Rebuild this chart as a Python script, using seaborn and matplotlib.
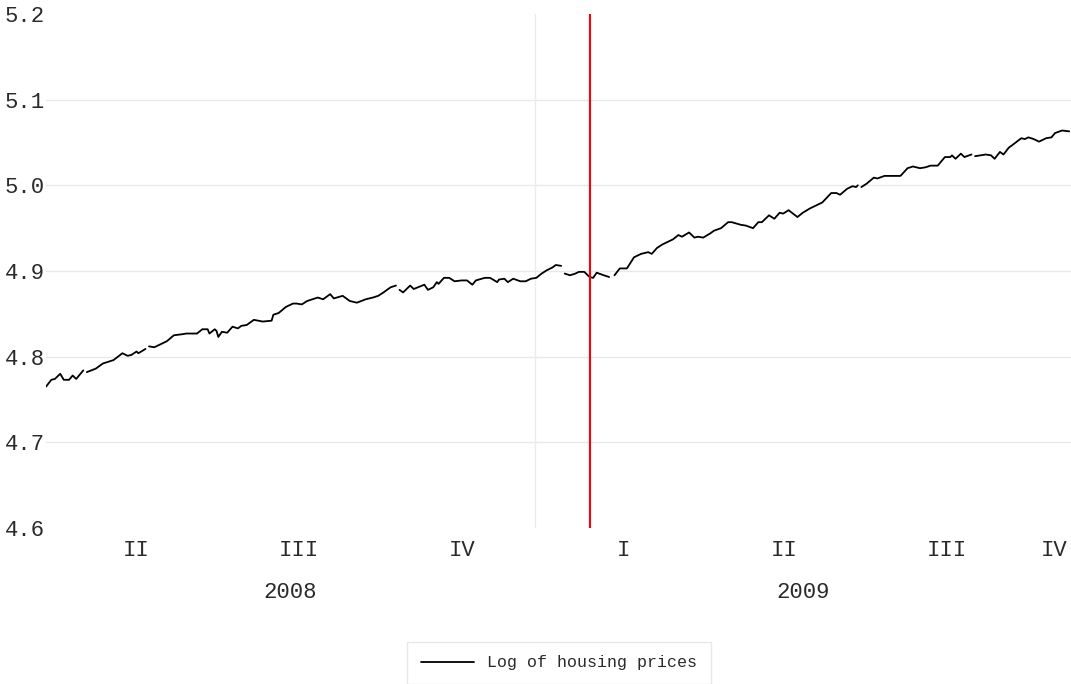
import numpy as np
import pandas as pd
import matplotlib
matplotlib.use("Agg")
import matplotlib.pyplot as plt
import matplotlib.dates as mdates
import matplotlib.transforms as mtransforms
from matplotlib.lines import Line2D
import seaborn as sns

nan = np.nan

# ---------- Data ----------
dates = [
    "2008-04-01", "2008-04-04", "2008-04-06", "2008-04-09", "2008-04-11", "2008-04-14",
    "2008-04-16", "2008-04-18", "2008-04-22", "2008-04-23", "2008-04-24", "2008-04-29",
    "2008-05-03", "2008-05-09", "2008-05-14", "2008-05-17", "2008-05-19", "2008-05-22",
    "2008-05-23", "2008-05-27", "2008-05-28", "2008-05-29", "2008-06-01", "2008-06-05",
    "2008-06-08", "2008-06-12", "2008-06-16", "2008-06-19", "2008-06-25", "2008-06-28",
    "2008-07-01", "2008-07-02", "2008-07-05", "2008-07-06", "2008-07-07", "2008-07-09",
    "2008-07-12", "2008-07-15", "2008-07-18", "2008-07-20", "2008-07-23", "2008-07-27",
    "2008-08-01", "2008-08-06", "2008-08-07", "2008-08-10", "2008-08-14", "2008-08-18",
    "2008-08-20", "2008-08-23", "2008-08-26", "2008-08-29", "2008-09-01", "2008-09-04",
    "2008-09-08", "2008-09-10", "2008-09-15", "2008-09-19", "2008-09-23", "2008-09-28",
    "2008-10-02", "2008-10-05", "2008-10-08", "2008-10-12", "2008-10-15", "2008-10-16",
    "2008-10-17", "2008-10-19", "2008-10-23", "2008-10-25", "2008-10-31", "2008-11-02",
    "2008-11-05", "2008-11-07", "2008-11-08", "2008-11-11", "2008-11-14", "2008-11-17",
    "2008-11-21", "2008-11-24", "2008-11-27", "2008-11-29", "2008-12-04", "2008-12-07",
    "2008-12-11", "2008-12-12", "2008-12-15", "2008-12-17", "2008-12-20", "2008-12-24",
    "2008-12-27", "2008-12-30", "2009-01-02", "2009-01-05", "2009-01-08", "2009-01-11",
    "2009-01-13", "2009-01-16", "2009-01-17", "2009-01-18", "2009-01-21", "2009-01-24",
    "2009-01-26", "2009-01-29", "2009-02-01", "2009-02-03", "2009-02-05", "2009-02-09",
    "2009-02-12", "2009-02-13", "2009-02-15", "2009-02-18", "2009-02-22", "2009-02-26",
    "2009-03-02", "2009-03-06", "2009-03-08", "2009-03-11", "2009-03-14", "2009-03-20",
    "2009-03-23", "2009-03-25", "2009-03-29", "2009-04-01", "2009-04-03", "2009-04-06",
    "2009-04-10", "2009-04-12", "2009-04-16", "2009-04-20", "2009-04-22", "2009-04-27",
    "2009-04-30", "2009-05-04", "2009-05-07", "2009-05-09", "2009-05-13", "2009-05-16",
    "2009-05-19", "2009-05-21", "2009-05-24", "2009-05-29", "2009-06-01", "2009-06-05",
    "2009-06-08", "2009-06-12", "2009-06-17", "2009-06-20", "2009-06-22", "2009-06-26",
    "2009-06-29", "2009-07-01", "2009-07-02", "2009-07-03", "2009-07-04", "2009-07-07",
    "2009-07-11", "2009-07-13", "2009-07-17", "2009-07-26", "2009-07-30", "2009-08-02",
    "2009-08-06", "2009-08-09", "2009-08-12", "2009-08-16", "2009-08-20", "2009-08-23",
    "2009-08-24", "2009-08-26", "2009-08-29", "2009-08-31", "2009-09-04", "2009-09-05",
    "2009-09-06", "2009-09-12", "2009-09-15", "2009-09-17", "2009-09-20", "2009-09-22",
    "2009-09-25", "2009-09-27", "2009-10-02", "2009-10-04", "2009-10-06", "2009-10-09",
    "2009-10-12", "2009-10-16", "2009-10-19", "2009-10-21", "2009-10-25", "2009-10-29",
]
log_prices = [
    4.765, 4.773, 4.774, 4.780, 4.773, 4.773,
    4.778, 4.774, 4.784, nan, 4.782, 4.786,
    4.792, 4.796, 4.804, 4.801, 4.802, 4.806,
    4.804, 4.809, nan, 4.812, 4.811, 4.815,
    4.818, 4.825, 4.826, 4.827, 4.827, 4.832,
    4.832, 4.827, 4.832, 4.830, 4.823, 4.829,
    4.828, 4.835, 4.833, 4.836, 4.837, 4.843,
    4.841, 4.842, 4.849, 4.851, 4.858, 4.862,
    4.862, 4.861, 4.865, 4.867, 4.869, 4.867,
    4.873, 4.868, 4.871, 4.865, 4.863, 4.867,
    4.869, 4.871, 4.875, 4.881, 4.883, nan,
    4.878, 4.875, 4.883, 4.879, 4.884, 4.878,
    4.881, 4.887, 4.885, 4.892, 4.892, 4.888,
    4.889, 4.889, 4.884, 4.889, 4.892, 4.892,
    4.887, 4.890, 4.891, 4.887, 4.891, 4.888,
    4.888, 4.891, 4.892, 4.897, 4.901, 4.904,
    4.907, 4.906, nan, 4.897, 4.895, 4.897,
    4.899, 4.899, 4.893, 4.892, 4.898, 4.895,
    4.893, nan, 4.895, 4.903, 4.903, 4.916,
    4.920, 4.922, 4.920, 4.927, 4.931, 4.937,
    4.942, 4.940, 4.945, 4.939, 4.940, 4.939,
    4.944, 4.947, 4.950, 4.957, 4.957, 4.954,
    4.953, 4.950, 4.957, 4.957, 4.965, 4.961,
    4.968, 4.967, 4.971, 4.963, 4.968, 4.973,
    4.976, 4.980, 4.991, 4.991, 4.989, 4.996,
    4.999, 4.998, 5.000, nan, 4.998, 5.002,
    5.009, 5.008, 5.011, 5.011, 5.020, 5.022,
    5.020, 5.021, 5.023, 5.023, 5.033, 5.033,
    5.035, 5.031, 5.037, 5.033, 5.036, nan,
    5.034, 5.036, 5.035, 5.031, 5.039, 5.036,
    5.044, 5.047, 5.055, 5.054, 5.056, 5.054,
    5.051, 5.055, 5.056, 5.061, 5.064, 5.063,
]

x_start, x_end = "2008-04-01", "2009-10-30"
year_line = "2009-01-01"
break_date = "2009-02-01"
y_ticks = [4.6, 4.7, 4.8, 4.9, 5.0, 5.1, 5.2]
quarter_names = ["I", "II", "III", "IV"]
legend_label = "Log of housing prices"

df = pd.DataFrame({"date": pd.to_datetime(dates), "value": log_prices})
# break the line where values are missing
df["segment"] = df["value"].isna().cumsum()
df = df.dropna()

# ---------- Plot ----------
sns.set_style("white")
plt.rcParams["font.family"] = ["Liberation Mono", "DejaVu Sans Mono"]
TEXT = "#2a2a2a"

fig = plt.figure(figsize=(10.71, 6.84), dpi=100)
ax = fig.add_axes([46 / 1071, 1 - 528 / 684, 1 - 46 / 1071, 514 / 684])

t0, t1 = pd.Timestamp(x_start), pd.Timestamp(x_end)

for y in y_ticks[1:-1]:
    ax.axhline(y, color="#e9e9e9", lw=1, zorder=0)
ax.axvline(pd.Timestamp(year_line), color="#ebebeb", lw=1, zorder=0)

sns.lineplot(data=df, x="date", y="value", units="segment", estimator=None,
             color="black", lw=1.3, ax=ax, legend=False)

ax.axvline(pd.Timestamp(break_date), color="red", lw=1.5, zorder=3)

ax.set_xlim(t0, t1)
ax.set_ylim(y_ticks[0], y_ticks[-1])
ax.set_yticks(y_ticks)
ax.set_yticklabels([f"{v:.1f}" for v in y_ticks])
ax.set_xticks([])
ax.set_xlabel("")
ax.set_ylabel("")
ax.tick_params(axis="y", length=0, pad=1, labelsize=16, labelcolor=TEXT)
for s in ax.spines.values():
    s.set_visible(False)

# quarter and year labels centred on the visible part of each period
trans = mtransforms.blended_transform_factory(ax.transData, ax.transAxes)
q_trans = trans + mtransforms.ScaledTranslation(9 / 100, 0, fig.dpi_scale_trans)
for q in pd.period_range(t0, t1, freq="Q"):
    a = max(q.start_time, t0)
    b = min(q.end_time, t1)
    mid = a + (b - a) / 2
    ax.text(mdates.date2num(mid), -22 / 514, quarter_names[q.quarter - 1],
            transform=q_trans, ha="center", va="center", fontsize=16, color=TEXT)
for yr in pd.period_range(t0, t1, freq="Y"):
    a = max(yr.start_time, t0)
    b = min(yr.end_time, t1)
    mid = a + (b - a) / 2
    ax.text(mdates.date2num(mid), -64 / 514, str(yr.year),
            transform=trans, ha="center", va="center", fontsize=16, color=TEXT)

leg = fig.legend(handles=[Line2D([], [], color="black", lw=1.3)], labels=[legend_label],
                 loc="center", bbox_to_anchor=(559 / 1071, 1 - 663 / 684),
                 fontsize=12, handlelength=3.2, handletextpad=0.8, borderpad=0.8,
                 frameon=True, fancybox=False, edgecolor="#e3e3e3")
for t in leg.get_texts():
    t.set_color(TEXT)

fig.savefig("out.png", dpi=100)
